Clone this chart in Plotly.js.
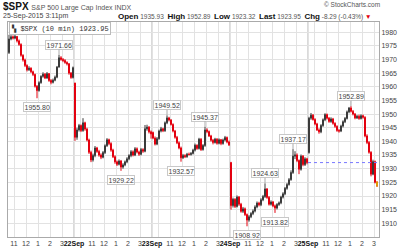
<!DOCTYPE html>
<html><head><meta charset="utf-8">
<script src="https://cdn.plot.ly/plotly-3.0.1.min.js"></script>
<style>html,body{margin:0;padding:0;background:#fff;}#chart{width:400px;height:252px;}</style>
</head><body><div id="chart"></div>
<script>
// ---- data ----
const symbol = '$SPX';
const indexName = 'S&amp;P 500 Large Cap Index INDX';
const stampText = '25-Sep-2015 3:11pm';
const dayNames = ['21Sep','22Sep','23Sep','24Sep','25Sep'];
const dayBarCounts = [33,39,39,39,35];
const dayFirstMinute = [630,570,570,570,570];   // 10:30, 9:30
const hourLabels = {600:'', 660:'11', 720:'12', 780:'1', 840:'2', 900:'3'};
const labelValues = [1971.66,1955.80,1929.22,1949.52,1932.57,1945.37,1908.92,1924.63,1913.82,1937.17,1952.89];
const yTicks = [1910,1915,1920,1925,1930,1935,1940,1945,1950,1955,1960,1965,1970,1975,1980];

const open = [
1972.5,1977.5,1978.3,1977.8,1978.4,1976.8,1975.5,1971.5,1969.8,1967.8,1966.2,1966.8,1965.5,1964.5,1960.2,1958.6,1961.5,1963.8,1964.6,1963.2,1964.8,1962.3,1961.6,1962.4,1963.5,1967.2,1970.6,1970.0,1969.6,1968.9,1968.4,1965.0,1963.4,
1961.39,1941.5,1944.2,1945.8,1944.0,1946.8,1944.5,1940.5,1936.0,1933.2,1934.8,1937.6,1936.3,1935.0,1934.2,1935.9,1938.4,1940.6,1939.2,1936.8,1934.4,1932.5,1931.6,1932.8,1930.6,1931.4,1932.5,1933.6,1934.8,1936.2,1935.0,1937.3,1936.1,1935.3,1937.0,1936.4,1944.6,1945.2,1943.5,
1943.24,1941.2,1939.0,1941.0,1943.8,1944.6,1943.9,1946.8,1948.6,1947.8,1946.2,1943.8,1941.5,1939.5,1937.6,1934.0,1934.8,1934.4,1935.3,1935.2,1935.6,1936.8,1938.6,1937.4,1940.8,1937.0,1938.5,1944.2,1943.6,1942.0,1940.4,1939.6,1940.8,1939.3,1940.6,1939.2,1940.5,1941.4,1939.8,
1932.24,1916.5,1918.8,1916.2,1919.6,1917.0,1914.4,1915.3,1913.2,1911.2,1912.4,1913.6,1914.5,1916.0,1917.4,1916.8,1918.6,1919.8,1922.6,1919.5,1917.0,1917.8,1916.4,1915.6,1916.9,1917.5,1919.6,1920.8,1922.8,1924.2,1926.0,1928.6,1934.6,1935.0,1933.0,1929.8,1934.6,1931.5,1933.6,
1935.93,1948.5,1949.6,1948.0,1946.4,1944.2,1943.5,1945.8,1947.9,1949.8,1948.5,1947.3,1948.2,1946.6,1945.5,1944.0,1943.8,1945.6,1947.2,1948.4,1950.8,1952.2,1951.0,1950.0,1948.6,1949.2,1948.4,1949.4,1948.8,1942.0,1939.6,1936.0,1928.0,1932.6,1925.0
];
const high = [
1979.0,1978.9,1978.8,1979.0,1978.6,1977.3,1975.9,1971.9,1970.3,1968.2,1967.5,1967.1,1965.9,1964.8,1960.6,1962.0,1964.2,1965.3,1965.0,1965.4,1965.0,1962.8,1963.0,1964.1,1967.6,1971.66,1971.2,1970.5,1970.1,1969.3,1968.7,1965.4,1967.4,
1961.39,1945.0,1946.4,1946.2,1948.5,1947.2,1945.0,1941.0,1936.6,1935.5,1938.3,1938.0,1936.9,1935.6,1936.5,1938.9,1941.2,1941.0,1939.7,1937.3,1934.9,1933.0,1933.4,1933.2,1932.0,1933.0,1934.2,1935.3,1936.8,1936.7,1937.9,1937.8,1936.6,1937.6,1937.5,1946.0,1946.1,1945.6,1944.0,
1943.6,1941.8,1941.6,1944.3,1945.3,1945.0,1947.3,1949.52,1949.0,1948.2,1946.6,1944.2,1942.0,1940.0,1938.1,1935.4,1935.3,1935.8,1935.9,1936.1,1937.3,1939.2,1938.9,1941.3,1941.2,1939.0,1945.37,1944.8,1944.0,1942.4,1940.9,1941.3,1941.2,1941.1,1940.9,1941.0,1942.0,1941.8,1940.3,
1932.5,1919.4,1919.2,1920.2,1920.0,1917.5,1916.0,1915.8,1913.6,1913.0,1914.1,1915.1,1916.6,1918.0,1917.9,1919.2,1920.4,1924.63,1922.9,1920.0,1918.4,1918.2,1916.9,1917.4,1918.0,1920.1,1921.4,1923.3,1924.8,1926.6,1929.4,1937.17,1936.4,1935.6,1933.4,1935.2,1935.0,1934.2,1934.0,
1949.0,1950.4,1950.0,1948.5,1946.8,1944.8,1946.3,1948.4,1950.3,1950.2,1948.9,1948.8,1948.6,1947.0,1945.9,1944.5,1946.1,1947.7,1948.9,1951.3,1952.6,1952.89,1951.5,1950.4,1949.7,1949.8,1949.9,1949.8,1949.2,1942.6,1940.1,1936.4,1933.3,1933.0,1925.4
];
const low = [
1972.0,1977.0,1977.3,1977.4,1976.2,1975.0,1971.0,1969.2,1967.2,1965.6,1965.8,1965.0,1963.9,1959.7,1955.80,1958.2,1961.1,1963.3,1962.8,1962.9,1961.8,1960.9,1961.2,1962.0,1963.1,1967.0,1969.5,1969.0,1968.4,1967.8,1964.4,1962.9,1963.0,
1940.2,1940.6,1943.6,1943.4,1943.5,1943.9,1940.0,1935.4,1932.4,1932.6,1934.2,1935.8,1934.4,1933.5,1933.8,1935.4,1938.0,1938.6,1936.2,1933.9,1931.8,1931.0,1931.2,1929.22,1930.0,1930.9,1932.0,1933.1,1934.2,1934.5,1934.6,1935.6,1934.7,1934.9,1935.8,1936.0,1943.9,1942.9,1941.0,
1940.8,1938.5,1938.6,1940.6,1943.3,1943.4,1943.5,1946.3,1947.3,1945.8,1943.3,1941.0,1939.0,1937.1,1932.57,1933.6,1933.9,1934.0,1934.8,1934.8,1935.2,1936.3,1936.9,1937.0,1936.5,1936.6,1938.0,1943.0,1941.6,1939.9,1938.9,1939.2,1938.8,1938.9,1938.6,1938.8,1940.0,1939.3,1938.3,
1915.0,1915.8,1915.6,1915.8,1916.4,1913.9,1913.8,1912.7,1908.92,1910.6,1911.9,1913.0,1914.0,1915.5,1916.2,1916.3,1918.1,1919.3,1919.0,1916.5,1916.5,1915.9,1913.82,1915.1,1916.4,1917.0,1919.1,1920.3,1922.3,1923.8,1925.6,1928.1,1933.5,1932.4,1928.0,1929.3,1930.9,1931.0,1931.6,
1935.5,1947.9,1947.6,1945.9,1943.8,1942.8,1943.0,1945.3,1947.4,1948.0,1946.8,1946.8,1946.1,1945.0,1943.5,1943.2,1943.4,1945.1,1946.7,1948.0,1950.3,1950.6,1949.5,1948.1,1948.2,1947.9,1948.0,1948.3,1941.5,1939.0,1935.5,1927.2,1927.6,1924.6,1923.32
];
const close = [
1977.5,1978.3,1977.8,1978.4,1976.8,1975.5,1971.5,1969.8,1967.8,1966.2,1966.8,1965.5,1964.5,1960.2,1958.6,1961.5,1963.8,1964.6,1963.2,1964.8,1962.3,1961.6,1962.4,1963.5,1967.2,1970.6,1970.0,1969.6,1968.9,1968.4,1965.0,1963.4,1966.97,
1941.5,1944.2,1945.8,1944.0,1946.8,1944.5,1940.5,1936.0,1933.2,1934.8,1937.6,1936.3,1935.0,1934.2,1935.9,1938.4,1940.6,1939.2,1936.8,1934.4,1932.5,1931.6,1932.8,1930.6,1931.4,1932.5,1933.6,1934.8,1936.2,1935.0,1937.3,1936.1,1935.3,1937.0,1936.4,1944.6,1945.2,1943.5,1942.74,
1941.2,1939.0,1941.0,1943.8,1944.6,1943.9,1946.8,1948.6,1947.8,1946.2,1943.8,1941.5,1939.5,1937.6,1934.0,1934.8,1934.4,1935.3,1935.2,1935.6,1936.8,1938.6,1937.4,1940.8,1937.0,1938.5,1944.2,1943.6,1942.0,1940.4,1939.6,1940.8,1939.3,1940.6,1939.2,1940.5,1941.4,1939.8,1938.76,
1916.5,1918.8,1916.2,1919.6,1917.0,1914.4,1915.3,1913.2,1911.2,1912.4,1913.6,1914.5,1916.0,1917.4,1916.8,1918.6,1919.8,1922.6,1919.5,1917.0,1917.8,1916.4,1915.6,1916.9,1917.5,1919.6,1920.8,1922.8,1924.2,1926.0,1928.6,1934.6,1935.0,1933.0,1929.8,1934.6,1931.5,1933.6,1932.24,
1948.5,1949.6,1948.0,1946.4,1944.2,1943.5,1945.8,1947.9,1949.8,1948.5,1947.3,1948.2,1946.6,1945.5,1944.0,1943.8,1945.6,1947.2,1948.4,1950.8,1952.2,1951.0,1950.0,1948.6,1949.2,1948.4,1949.4,1948.8,1942.0,1939.6,1936.0,1928.0,1932.6,1925.0,1923.95
];

// ---- derived ----
const FONT = 'Liberation Sans, Arial, sans-serif';
const xIdx = [], minutes = [], dayStart = [];
let k = 0;
dayBarCounts.forEach((n, d) => {
  dayStart.push(k);
  for (let j = 0; j < n; j++) { xIdx.push(k); minutes.push(dayFirstMinute[d] + 10 * j); k++; }
});
const N = xIdx.length;
const tickvals = [], ticktext = [];
let dayOf = [];
dayBarCounts.forEach((n, d) => { for (let j = 0; j < n; j++) dayOf.push(d); });
for (let i = 0; i < N; i++) {
  const m = minutes[i];
  if (m === 570) { tickvals.push(i - 0.5); ticktext.push('<span style="color:#111"><b>' + dayNames[dayOf[i]] + '</b></span>'); }
  else if (m % 60 === 0 && (m in hourLabels)) { tickvals.push(i - 0.5); ticktext.push(hourLabels[m]); }
}
const lastDay = dayBarCounts.length - 1;
const d5 = dayStart[lastDay];
const prevClose = close[d5 - 1];
const dayHigh = Math.max(...high.slice(d5));
const dayLow = Math.min(...low.slice(d5));
const last = close[N - 1];
const chg = last - prevClose;
const pct = chg / prevClose * 100;

const main = {
  type: 'candlestick', x: xIdx, open: open, high: high, low: low, close: close,
  whiskerwidth: 0, hoverinfo: 'skip',
  increasing: {line: {color: '#3a3a3a', width: 1}, fillcolor: '#3a3a3a'},
  decreasing: {line: {color: '#e3000f', width: 1}, fillcolor: '#e3000f'}
};
const lastBar = {
  type: 'candlestick', x: [xIdx[N-1]], open: [open[N-1]], high: [high[N-1]], low: [low[N-1]], close: [close[N-1]],
  whiskerwidth: 0, hoverinfo: 'skip',
  increasing: {line: {color: '#e0a000', width: 1}, fillcolor: '#ffd200'},
  decreasing: {line: {color: '#e0a000', width: 1}, fillcolor: '#ffd200'}
};

const shapes = [];
for (let d = 1; d < dayStart.length; d++) {
  shapes.push({type: 'line', xref: 'x', yref: 'paper', x0: dayStart[d] - 0.5, x1: dayStart[d] - 0.5, y0: 0, y1: 1,
    line: {color: '#b5b5b5', width: 1}, layer: 'below'});
}
shapes.push({type: 'line', xref: 'x', yref: 'y', x0: d5 - 0.5, x1: N - 1, y0: prevClose, y1: prevClose,
  line: {color: '#7878ff', width: 1, dash: 'dot'}});

// plot geometry in px for paper placement of header texts
const L = 8, R = 21, T = 22, B = 15, W = 400, H = 252;
const pw = W - L - R, ph = H - T - B;
const px = v => (v - L) / pw;
const py = v => (H - B - v) / ph;

const annotations = [];
labelValues.forEach(v => {
  let i = high.indexOf(v), isHigh = true;
  if (i < 0) { i = low.indexOf(v); isHigh = false; }
  if (i < 0) return;
  annotations.push({
    x: xIdx[i], y: isHigh ? high[i] : low[i], xref: 'x', yref: 'y',
    text: v.toFixed(2), showarrow: true, arrowhead: 0, arrowwidth: 1, arrowcolor: '#aaa',
    ax: 0, ay: isHigh ? -10 : 9, standoff: 0,
    font: {family: FONT, size: 7, color: '#444'},
    bgcolor: '#fff', bordercolor: '#c8c8c8', borderwidth: 1, borderpad: 0.5
  });
});
// header
annotations.push({xref: 'paper', yref: 'paper', x: px(1), y: py(6), xanchor: 'left', yanchor: 'middle', showarrow: false,
  text: '<b>' + symbol + '</b> <span style="font-size:7px;color:#555">' + indexName + '</span>',
  font: {family: FONT, size: 10, color: '#111'}});
annotations.push({xref: 'paper', yref: 'paper', x: px(1), y: py(16.5), xanchor: 'left', yanchor: 'middle', showarrow: false,
  text: stampText, font: {family: FONT, size: 7, color: '#444'}});
const lbl = t => '<span style="font-size:8px;color:#111"><b>' + t + '</b></span>';
annotations.push({xref: 'paper', yref: 'paper', x: px(116), y: py(16.5), xanchor: 'left', yanchor: 'middle', showarrow: false,
  text: lbl('Open') + ' ' + open[d5].toFixed(2) + '  ' + lbl('High') + ' ' + dayHigh.toFixed(2) + '  ' + lbl('Low') + ' ' + dayLow.toFixed(2) +
        '  ' + lbl('Last') + ' ' + last.toFixed(2) + '  ' + lbl('Chg') + ' ' + chg.toFixed(2) + ' (' + pct.toFixed(2) + '%) <span style="color:#e3000f">▼</span>',
  font: {family: FONT, size: 6.5, color: '#555'}});
annotations.push({xref: 'paper', yref: 'paper', x: px(382), y: py(5), xanchor: 'right', yanchor: 'middle', showarrow: false,
  text: '© StockCharts.com', font: {family: FONT, size: 6.5, color: '#555'}});
// legend box
annotations.push({xref: 'paper', yref: 'paper', x: px(9), y: py(28), xanchor: 'left', yanchor: 'middle', showarrow: false,
  text: '<span style="color:#333">▚</span> ' + symbol + ' (10 min) ' + last.toFixed(2),
  font: {family: 'Liberation Mono, DejaVu Sans Mono, monospace', size: 7, color: '#333'},
  bgcolor: '#fff', bordercolor: '#bbb', borderwidth: 1, borderpad: 1});

const layout = {
  width: W, height: H, margin: {l: L, r: R, t: T, b: B, pad: 0},
  paper_bgcolor: '#fff', plot_bgcolor: '#fff', showlegend: false, hovermode: false, dragmode: false,
  font: {family: FONT, size: 7, color: '#444'},
  xaxis: {type: 'linear', range: [-0.5, 185], tickvals: tickvals, ticktext: ticktext, tickangle: 0,
    showgrid: true, gridcolor: '#e2e2e2', gridwidth: 1, zeroline: false, ticks: '',
    showline: true, linecolor: '#aaa', linewidth: 1, mirror: true,
    tickfont: {family: FONT, size: 7, color: '#444'}, rangeslider: {visible: false}, fixedrange: true},
  yaxis: {side: 'right', range: [1905, 1983.7], tickvals: yTicks, ticktext: yTicks.map(String),
    showgrid: true, gridcolor: '#e2e2e2', gridwidth: 1, zeroline: false, ticks: '', ticklen: 0,
    showline: true, linecolor: '#aaa', linewidth: 1, mirror: true,
    tickfont: {family: FONT, size: 7, color: '#444'}, fixedrange: true},
  shapes: shapes, annotations: annotations
};
Plotly.newPlot('chart', [main, lastBar], layout, {staticPlot: true, displayModeBar: false});
</script>
</body></html>
